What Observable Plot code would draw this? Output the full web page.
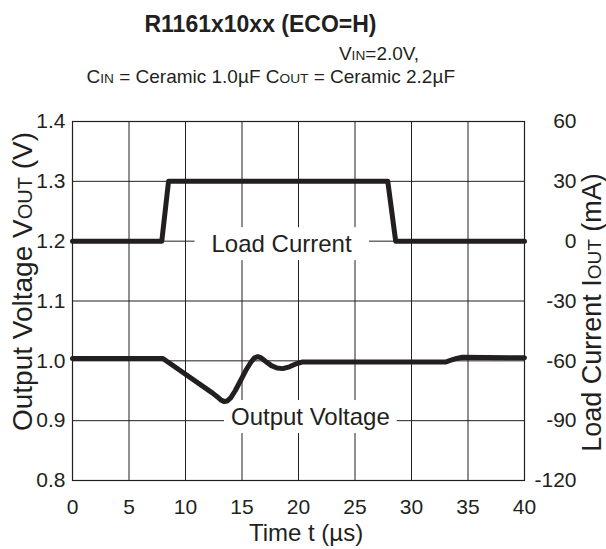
<!DOCTYPE html>
<html><head><meta charset="utf-8">
<script src="https://cdn.jsdelivr.net/npm/d3@7"></script>
<script src="https://cdn.jsdelivr.net/npm/@observablehq/plot@0.6"></script>
<style>
body{margin:0;background:#fff;font-family:"Liberation Sans",Arial,sans-serif;color:#231f20}
#head{position:relative;width:606px;height:100px}
#head div{position:absolute;white-space:nowrap;line-height:1}
.sc{font-size:72%}
</style></head><body>
<div id="head">
 <div style="left:0;width:521px;text-align:center;top:13px;font-weight:bold;font-size:23px;">R1161x10xx (ECO=H)</div>
 <div style="right:187px;top:44px;font-size:19px">V<span class="sc">IN</span>=2.0V,</div>
 <div style="right:151px;top:67px;font-size:19px">C<span class="sc">IN</span> = Ceramic 1.0µF C<span class="sc">OUT</span> = Ceramic 2.2µF</div>
</div>
<div id="chart"></div>
<script>
// Output voltage transient (time in µs, volts)
const vout_t = [0, 8.0, 12.4, 12.8, 13.1, 13.4, 13.7, 14.0, 14.4, 14.9, 15.4, 15.8, 16.1, 16.4, 16.7, 17.1, 17.6, 18.1, 18.6, 19.2, 19.8, 20.3, 33.0, 33.5, 34.0, 34.5, 40];
const vout_V = [1.004, 1.004, 0.946, 0.940, 0.935, 0.932, 0.933, 0.938, 0.950, 0.968, 0.986, 0.998, 1.005, 1.007, 1.005, 0.999, 0.992, 0.988, 0.987, 0.990, 0.995, 0.998, 0.998, 1.001, 1.004, 1.006, 1.005];
// Load current step (time in µs, mA)
const load_t = [0, 7.9, 8.5, 27.9, 28.6, 40];
const load_mA = [0, 0, 30, 30, 0, 0];
// Axis ticks
const timeTicks = [0, 5, 10, 15, 20, 25, 30, 35, 40];
const voltTicks = [0.8, 0.9, 1.0, 1.1, 1.2, 1.3, 1.4];
const currentTicks = [-120, -90, -60, -30, 0, 30, 60];
// Annotations
const annoLabels = ["Load Current", "Output Voltage"];
const annoT = [18.5, 21.05];
const annoV = [1.1945, 0.9055];
const annoPadX = [17, 7];

const toVolt = mA => 1.2 + mA / 300;
const vout = vout_t.map((t, i) => ({t, v: vout_V[i]}));
const load = load_t.map((t, i) => ({t, v: toVolt(load_mA[i])}));
const annos = annoLabels.map((label, i) => ({label, t: annoT[i], v: annoV[i]}));
const ink = "#231f20";

const chart = Plot.plot({
  width: 606, height: 449,
  marginTop: 21, marginBottom: 69, marginLeft: 72, marginRight: 82,
  style: {fontFamily: '"Liberation Sans", Arial, sans-serif', fontSize: "21px", color: ink, background: "#fff"},
  x: {domain: [0, 40]},
  y: {domain: [0.8, 1.4]},
  marks: [
    Plot.gridX(timeTicks, {stroke: ink, strokeOpacity: 1, strokeWidth: 1}),
    Plot.gridY(voltTicks, {stroke: ink, strokeOpacity: 1, strokeWidth: 1}),
    Plot.frame({stroke: ink, strokeWidth: 1.2}),
    Plot.axisX(timeTicks, {tickSize: 0, tickPadding: 19, label: null, fontSize: 21, fill: ink}),
    Plot.axisY(voltTicks, {anchor: "left", tickSize: 0, tickPadding: 7, label: null, tickFormat: d => d.toFixed(1), fontSize: 21, fill: ink}),
    Plot.axisY(currentTicks.map(toVolt), {anchor: "right", tickSize: 0, tickPadding: 52, textAnchor: "end", label: null,
      tickFormat: v => String(currentTicks.find(c => Math.abs(toVolt(c) - v) < 1e-9)), fontSize: 21, fill: ink}),
    Plot.text(annos, {x: "t", y: "v", text: "label", fontSize: 24, fill: ink, className: "anno"}),
    Plot.line(load, {x: "t", y: "v", stroke: ink, strokeWidth: 5}),
    Plot.line(vout, {x: "t", y: "v", stroke: ink, strokeWidth: 5, strokeLinejoin: "round"})
  ]
});
document.getElementById("chart").appendChild(chart);

const svg = d3.select(chart);
// white boxes behind annotations
const sr = chart.getBoundingClientRect();
svg.selectAll(".anno text").each(function(d, i) {
  const r = this.getBoundingClientRect();
  const px = annoPadX[i];
  svg.insert("rect", ".anno")
    .attr("x", r.left - sr.left - px).attr("y", r.top - sr.top - 3)
    .attr("width", r.width + 2 * px).attr("height", r.height + 6)
    .attr("fill", "#fff");
});
function title(x, y, rot, size, parts) {
  const t = svg.append("text")
    .attr("transform", `translate(${x},${y})` + (rot ? ` rotate(${rot})` : ""))
    .attr("text-anchor", "middle").attr("fill", ink).attr("font-size", size);
  parts.forEach(([s, small]) => t.append("tspan").attr("font-size", small ? Math.round(size * 0.72) : size).text(s));
}
title(306, 441, 0, 24, [["Time t (µs)"]]);
title(31.5, 181.5, -90, 28, [["Output Voltage V"], ["OUT", 1], [" (V)"]]);
title(601, 212.5, -90, 27, [["Load Current I"], ["OUT", 1], [" (mA)"]]);
</script>
</body></html>
